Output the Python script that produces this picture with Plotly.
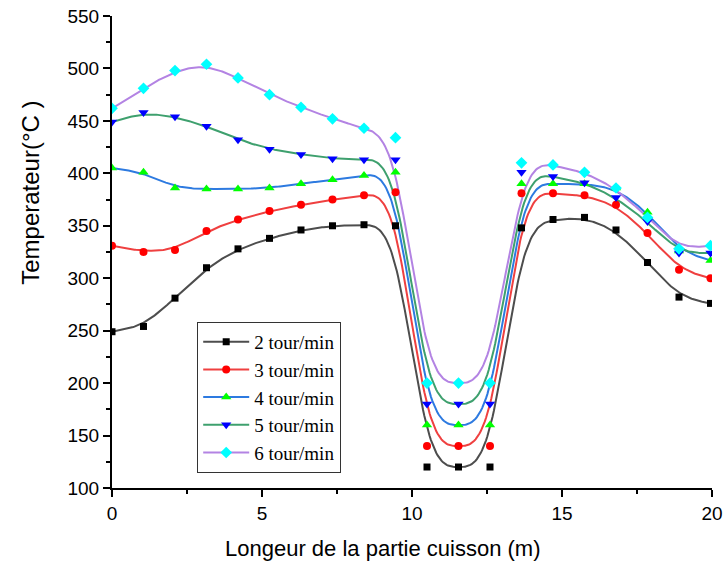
import numpy as np
import plotly.graph_objects as go

x_pos = [0, 1.05, 2.1, 3.15, 4.2, 5.25, 6.3, 7.35, 8.4, 9.45,
         10.5, 11.55, 12.6, 13.65, 14.7, 15.75, 16.8, 17.85, 18.9, 19.95]

t_2 = [249, 254, 281, 310, 328, 338, 346, 350, 351, 350,
       120, 120, 120, 348, 356, 358, 346, 315, 282, 276]
t_3 = [331, 325, 327, 345, 356, 364, 370, 375, 379, 382,
       140, 140, 140, 381, 381, 379, 370, 343, 308, 300]
t_4 = [405, 401, 386, 385, 385, 386, 390, 394, 398, 401,
       160, 160, 160, 390, 390, 390, 386, 363, 326, 317]
t_5 = [449, 458, 454, 445, 432, 423, 418, 414, 413, 413,
       180, 180, 180, 401, 397, 391, 377, 354, 324, 324]
t_6 = [462, 481, 498, 504, 491, 475, 463, 452, 443, 434,
       200, 200, 200, 410, 408, 401, 386, 358, 328, 331]

labels = ["2 tour/min", "3 tour/min", "4 tour/min", "5 tour/min", "6 tour/min"]
series = [t_2, t_3, t_4, t_5, t_6]
line_colors = ["#4d4d4d", "#ef4040", "#2d7ae0", "#3ea06e", "#b383e3"]
marker_colors = ["#000000", "#ff0000", "#00ff00", "#0000ff", "#00ffff"]
symbols = ["square", "circle", "triangle-up", "triangle-down", "diamond"]
sizes = [7, 8, 9, 9, 9]


def bspline_connect(xs, ys, n=24):
    """Clamped uniform cubic B-spline connection (Origin 'B-Spline' line style)."""
    px = np.array([xs[0]] * 2 + list(xs) + [xs[-1]] * 2, dtype=float)
    py = np.array([ys[0]] * 2 + list(ys) + [ys[-1]] * 2, dtype=float)
    t = np.linspace(0, 1, n, endpoint=False)
    b0 = (1 - t) ** 3 / 6
    b1 = (3 * t ** 3 - 6 * t ** 2 + 4) / 6
    b2 = (-3 * t ** 3 + 3 * t ** 2 + 3 * t + 1) / 6
    b3 = t ** 3 / 6
    cx, cy = [], []
    for i in range(len(px) - 3):
        cx.extend(b0 * px[i] + b1 * px[i + 1] + b2 * px[i + 2] + b3 * px[i + 3])
        cy.extend(b0 * py[i] + b1 * py[i + 1] + b2 * py[i + 2] + b3 * py[i + 3])
    cx.append(xs[-1])
    cy.append(ys[-1])
    return cx, cy


fig = go.Figure()
# connecting curves
for lab, ys, lc in zip(labels, series, line_colors):
    cx, cy = bspline_connect(x_pos, ys)
    fig.add_trace(go.Scatter(x=cx, y=cy, mode="lines", showlegend=False,
                             line=dict(color=lc, width=2), hoverinfo="skip"))
# data markers
for lab, ys, mc, sym, sz in zip(labels, series, marker_colors, symbols, sizes):
    fig.add_trace(go.Scatter(x=x_pos, y=ys, mode="markers", name=lab, showlegend=False,
                             marker=dict(symbol=sym, color=mc, size=sz, line=dict(width=0))))
# legend entries
for lab, lc, mc, sym, sz in zip(labels, line_colors, marker_colors, symbols, sizes):
    fig.add_trace(go.Scatter(x=[None], y=[None], mode="lines+markers", name=lab,
                             line=dict(color=lc, width=2),
                             marker=dict(symbol=sym, color=mc, size=sz, line=dict(width=0))))

fig.update_layout(
    width=726, height=568,
    margin=dict(l=112, r=14, t=16, b=80),
    paper_bgcolor="white", plot_bgcolor="white",
    showlegend=True,
    legend=dict(
        x=0.142, y=0.352, xanchor="left", yanchor="top",
        bgcolor="white", bordercolor="#333333", borderwidth=1,
        font=dict(family="Liberation Serif, Times New Roman", size=19, color="#000000"),
        tracegroupgap=0, itemwidth=46,
    ),
    annotations=[
        dict(text="Longeur de la partie cuisson (m)", xref="paper", yref="paper",
             x=0.452, y=-0.129, xanchor="center", yanchor="middle", showarrow=False,
             font=dict(family="Liberation Sans, Arial", size=22, color="#000000")),
        dict(text="Temperateur(°C )", xref="paper", yref="paper",
             x=-0.137, y=0.625, xanchor="center", yanchor="middle", showarrow=False,
             textangle=-90,
             font=dict(family="Liberation Sans, Arial", size=24, color="#000000")),
    ],
)
tick_font = dict(family="Liberation Sans, Arial", size=19, color="#000000")
fig.update_xaxes(
    range=[0, 20], tickmode="linear", tick0=0, dtick=5, automargin=False,
    showgrid=False, zeroline=False,
    showline=True, linecolor="#000000", linewidth=2,
    ticks="outside", ticklen=7, tickwidth=2, tickcolor="#000000",
    minor=dict(dtick=2.5, ticks="outside", ticklen=4, tickwidth=2, tickcolor="#000000"),
    tickfont=tick_font,
)
fig.update_yaxes(
    range=[100, 550], tickmode="linear", tick0=100, dtick=50, automargin=False,
    showgrid=False, zeroline=False,
    showline=True, linecolor="#000000", linewidth=2,
    ticks="outside", ticklen=7, tickwidth=2, tickcolor="#000000",
    minor=dict(dtick=25, ticks="outside", ticklen=4, tickwidth=2, tickcolor="#000000"),
    tickfont=tick_font,
)

fig.write_html("out.html")
